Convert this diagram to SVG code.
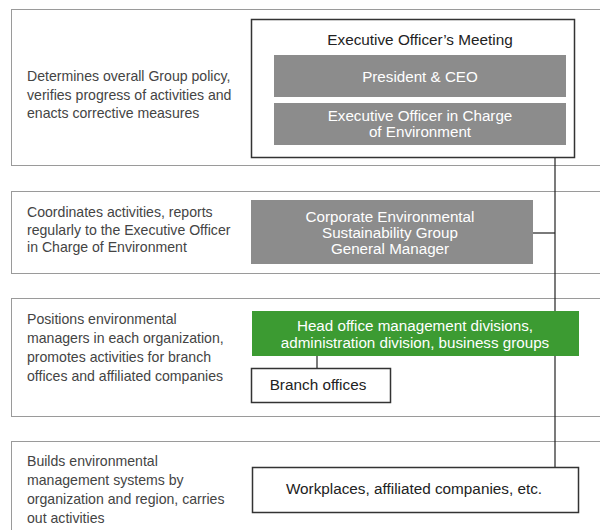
<svg xmlns="http://www.w3.org/2000/svg" width="600" height="530" viewBox="0 0 600 530">
<style>
.band{fill:#fff;stroke:#9a9a9a;stroke-width:1}
.desc{font-family:"Liberation Sans",Arial,sans-serif;font-size:14.1px;fill:#444}
.box{fill:#fff;stroke:#333;stroke-width:1.5}
.grey{fill:#8c8c8c}
.green{fill:#3c9b32}
.wt{font-family:"Liberation Sans",Arial,sans-serif;font-size:15.2px;fill:#fff;text-anchor:middle}
.bt{font-family:"Liberation Sans",Arial,sans-serif;font-size:15.3px;fill:#222;text-anchor:middle}
.conn{stroke:#222;stroke-width:1.2;fill:none}
</style>
<rect width="600" height="530" fill="#fff"/>
<g id="bands">
<rect class="band" x="11.5" y="9.5" width="600" height="156"/>
<rect class="band" x="11.5" y="191.5" width="600" height="82"/>
<rect class="band" x="11.5" y="298.5" width="600" height="118"/>
<rect class="band" x="11.5" y="441.5" width="600" height="100"/>
</g>
<g id="descriptions">
<text class="desc" x="27" y="81">Determines overall Group policy,</text>
<text class="desc" x="27" y="100">verifies progress of activities and</text>
<text class="desc" x="27" y="118">enacts corrective measures</text>
<text class="desc" x="27" y="217">Coordinates activities, reports</text>
<text class="desc" x="27" y="235">regularly to the Executive Officer</text>
<text class="desc" x="27" y="252">in Charge of Environment</text>
<text class="desc" x="27" y="324">Positions environmental</text>
<text class="desc" x="27" y="343">managers in each organization,</text>
<text class="desc" x="27" y="362">promotes activities for branch</text>
<text class="desc" x="27" y="381">offices and affiliated companies</text>
<text class="desc" x="27" y="466">Builds environmental</text>
<text class="desc" x="27" y="485">management systems by</text>
<text class="desc" x="27" y="504">organization and region, carries</text>
<text class="desc" x="27" y="523">out activities</text>
</g>
<g id="connectors">
<line class="conn" x1="555" y1="158" x2="555" y2="467"/>
<line class="conn" x1="533" y1="233" x2="555" y2="233"/>
<line class="conn" x1="317" y1="356" x2="317" y2="368"/>
</g>
<g id="meeting">
<rect class="box" x="251.5" y="19.5" width="323" height="138"/>
<text class="bt" x="420" y="45">Executive Officer’s Meeting</text>
</g>
<g id="president">
<rect class="grey" x="274" y="55" width="292" height="42"/>
<text class="wt" x="420" y="82">President &amp; CEO</text>
</g>
<g id="eo-env">
<rect class="grey" x="274" y="103" width="292" height="42"/>
<text class="wt" x="420" y="121">Executive Officer in Charge</text>
<text class="wt" x="420" y="137">of Environment</text>
</g>
<g id="corporate">
<rect class="grey" x="251" y="200" width="282" height="64"/>
<text class="wt" x="390" y="222">Corporate Environmental</text>
<text class="wt" x="390" y="238">Sustainability Group</text>
<text class="wt" x="390" y="254">General Manager</text>
</g>
<g id="headoffice">
<rect class="green" x="252" y="311" width="327" height="45"/>
<text class="wt" x="415" y="331">Head office management divisions,</text>
<text class="wt" x="415" y="348">administration division, business groups</text>
</g>
<g id="branch">
<rect class="box" x="251.5" y="368.5" width="139" height="34"/>
<text class="bt" x="318" y="390">Branch offices</text>
</g>
<g id="workplaces">
<rect class="box" x="252.5" y="467.5" width="326" height="45"/>
<text class="bt" x="414" y="494">Workplaces, affiliated companies, etc.</text>
</g>
</svg>
